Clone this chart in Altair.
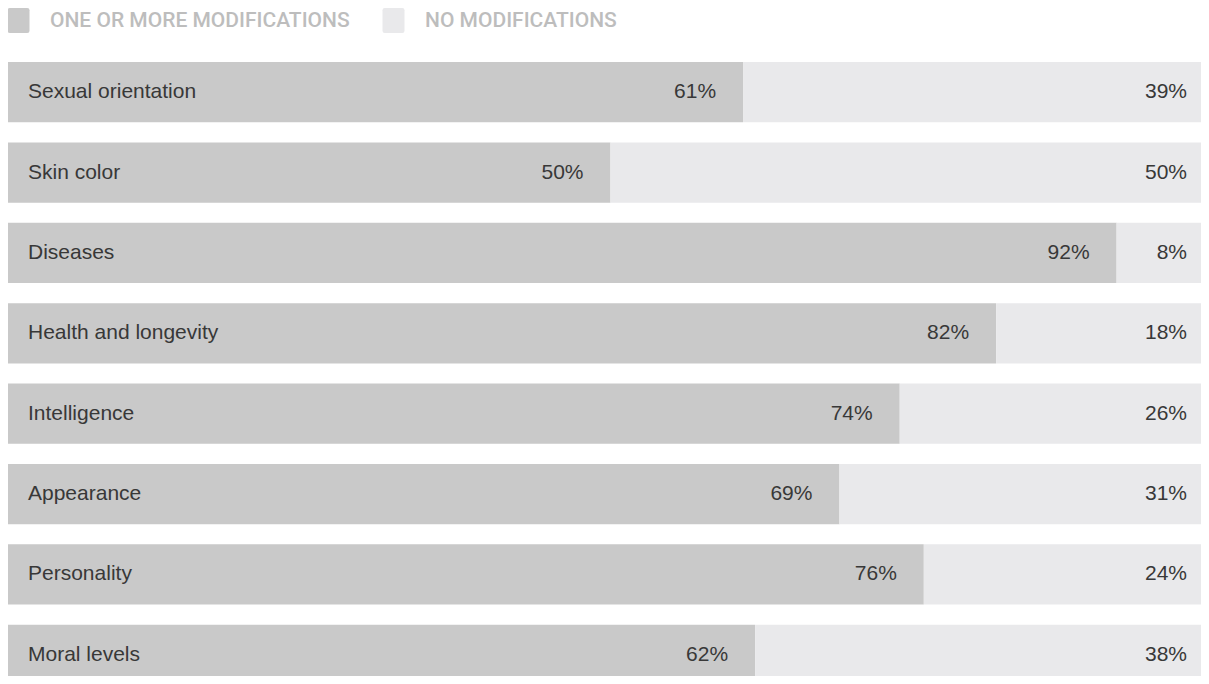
import altair as alt
import pandas as pd

categories = ["Sexual orientation", "Skin color", "Diseases", "Health and longevity",
              "Intelligence", "Appearance", "Personality", "Moral levels"]
one_or_more = [61, 50, 92, 82, 74, 69, 76, 62]
no_mods = [39, 50, 8, 18, 26, 31, 24, 38]
series = ["ONE OR MORE MODIFICATIONS", "NO MODIFICATIONS"]
colors = ["#c9c9c9", "#e9e9eb"]

rows = []
for c, a, b in zip(categories, one_or_more, no_mods):
    rows.append({"cat": c, "series": series[0], "start": 0, "end": a})
    rows.append({"cat": c, "series": series[1], "start": a, "end": a + b})
df = pd.DataFrame(rows)

lab = pd.DataFrame({"cat": categories, "one": one_or_more,
                    "tot": [a + b for a, b in zip(one_or_more, no_mods)],
                    "one_t": [f"{v}%" for v in one_or_more],
                    "no_t": [f"{v}%" for v in no_mods]})

W, H = 1193, 614
yenc = alt.Y("cat:N", sort=categories, axis=None,
             scale=alt.Scale(paddingInner=0.25, paddingOuter=0, range=[0, 623]))
xscale = alt.Scale(domain=[0, 100], nice=False, zero=True, range=[0, 1205])

rounded = ("M-0.7,-1 H0.7 Q0.88,-1 0.88,-0.82 V0.82 Q0.88,1 0.7,1 H-0.7 "
           "Q-0.88,1 -0.88,0.82 V-0.82 Q-0.88,-1 -0.7,-1 Z")

FONT = "Liberation Sans"
FS = 21

bars = alt.Chart(df).mark_bar(cornerRadius=0, strokeWidth=0).encode(
    y=yenc,
    x=alt.X("start:Q", scale=xscale, axis=None),
    x2="end:Q",
    color=alt.Color("series:N", scale=alt.Scale(domain=series, range=colors),
                    legend=alt.Legend(title=None, orient="none", legendX=-2, legendY=-54,
                                      direction="horizontal", symbolType=rounded,
                                      symbolSize=625, symbolStrokeWidth=0,
                                      symbolOpacity=1,
                                      labelFont="Roboto", labelFontWeight=500, labelFontSize=21,
                                      labelColor="#bdbdbd", labelOffset=19,
                                      columnPadding=31, labelLimit=600)),
)

catlab = alt.Chart(lab).mark_text(align="left", baseline="middle", dx=20,
                                  font=FONT, fontSize=FS, color="#383838").encode(
    y=yenc, x=alt.value(0), text="cat:N")

onelab = alt.Chart(lab).mark_text(align="right", baseline="middle", dx=-27,
                                  font=FONT, fontSize=FS, color="#383838").encode(
    y=yenc, x=alt.X("one:Q", scale=xscale, axis=None), text="one_t:N")

nolab = alt.Chart(lab).mark_text(align="right", baseline="middle", dx=-26,
                                 font=FONT, fontSize=FS, color="#383838").encode(
    y=yenc, x=alt.X("tot:Q", scale=xscale, axis=None), text="no_t:N")

chart = alt.layer(bars, catlab, onelab, nolab).properties(
    width=W, height=H,
    autosize=alt.AutoSizeParams(type="none"),
    padding={"left": 0, "top": 54, "right": 0, "bottom": 0},
).configure_view(stroke=None)

chart.save("out.html", embed_options={"renderer": "svg", "actions": False})
